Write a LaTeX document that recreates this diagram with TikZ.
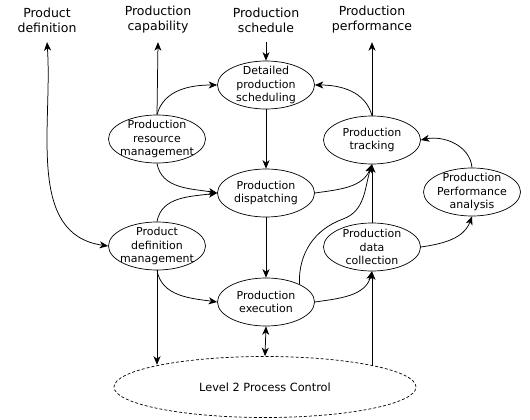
\documentclass[tikz,border=0pt]{standalone}
\usepackage{fontspec}
\setmainfont{DejaVu Sans}
\usetikzlibrary{shapes.geometric,arrows.meta}
\begin{document}
\begin{tikzpicture}[x=1pt,y=1pt,
  proc/.style={ellipse,draw,line width=0.7pt,minimum width=97pt,minimum height=48pt,inner sep=-6pt,align=center,font=\fontsize{11}{13.5}\selectfont},
  lbl/.style={align=center,inner sep=0pt,minimum height=44pt,font=\fontsize{12.5}{15}\selectfont},
  tip/.style={Stealth[length=8.5pt,width=7pt,inset=2.5pt]},
  conn/.style={line width=0.75pt,-{Stealth[length=8.5pt,width=7pt,inset=2.5pt]}},
  bconn/.style={line width=0.75pt,{Stealth[length=8.5pt,width=7pt,inset=2.5pt]}-{Stealth[length=8.5pt,width=7pt,inset=2.5pt]}},
]
\useasboundingbox (0,0) rectangle (530,-420);
\node[lbl] (lpd) at (47,-20) {Product\\definition};
\node[lbl] (lpc) at (158,-20) {Production\\capability};
\node[lbl] (lps) at (266,-20) {Production\\schedule};
\node[lbl] (lpp) at (372,-20) {Production\\performance};

\node[proc] (dps) at (266,-85) {Detailed\\production\\scheduling};
\node[proc] (prm) at (157,-139) {Production\\resource\\management};
\node[proc] (trk) at (372,-140) {Production\\tracking};
\node[proc] (dis) at (266,-193) {Production\\dispatching};
\node[proc] (ppa) at (472,-192) {Production\\Performance\\analysis};
\node[proc] (pdm) at (157,-246) {Product\\definition\\management};
\node[proc] (pdc) at (372,-247) {Production\\data\\collection};
\node[proc] (exe) at (266,-302) {Production\\execution};
\node[ellipse,draw,line width=0.7pt,dash pattern=on 3pt off 2pt,minimum width=302pt,minimum height=61pt,font=\fontsize{11.3}{13.5}\selectfont] (lvl) at (265,-387) {Level 2 Process Control};

\draw[bconn] (lpd.south) to[out=-86,in=172] (pdm.west);
\draw[conn] (prm.north) -- (lpc.south);
\draw[conn] (prm.north) to[out=75,in=180] (dps.west);
\draw[conn] (lps.south) -- (dps.north);
\draw[conn] (dps.south) -- (dis.north);
\draw[conn] (prm.south) to[out=-80,in=170] (dis.west);
\draw[conn] (pdm.north) to[out=80,in=188] (dis.west);
\draw[conn] (dis.east) to[out=8,in=-112] (trk.south);
\draw[conn] (trk.north) -- (lpp.south);
\draw[conn] (trk.north) to[out=105,in=0] (dps.east);
\draw[conn] (pdc.north) -- (trk.south);
\draw[conn] (exe.28) to[out=92,in=200] (343,-219) to[out=20,in=-108] (trk.south);
\draw[conn] (pdc.east) to[out=8,in=-110] (ppa.south);
\draw[conn] (ppa.north) to[out=95,in=12] (trk.east);
\draw[conn] (dis.south) -- (exe.north);
\draw[conn] (pdm.south) to[out=-80,in=172] (exe.west);
\draw[conn] (exe.east) to[out=8,in=-105] (pdc.south);
\draw[conn] (pdm.south) -- (pdm.south |- lvl.168.9);
\draw[bconn] (exe.south) -- (lvl.north);
\draw[conn] (pdc.south |- lvl.11.1) -- (pdc.south);
\end{tikzpicture}
\end{document}
